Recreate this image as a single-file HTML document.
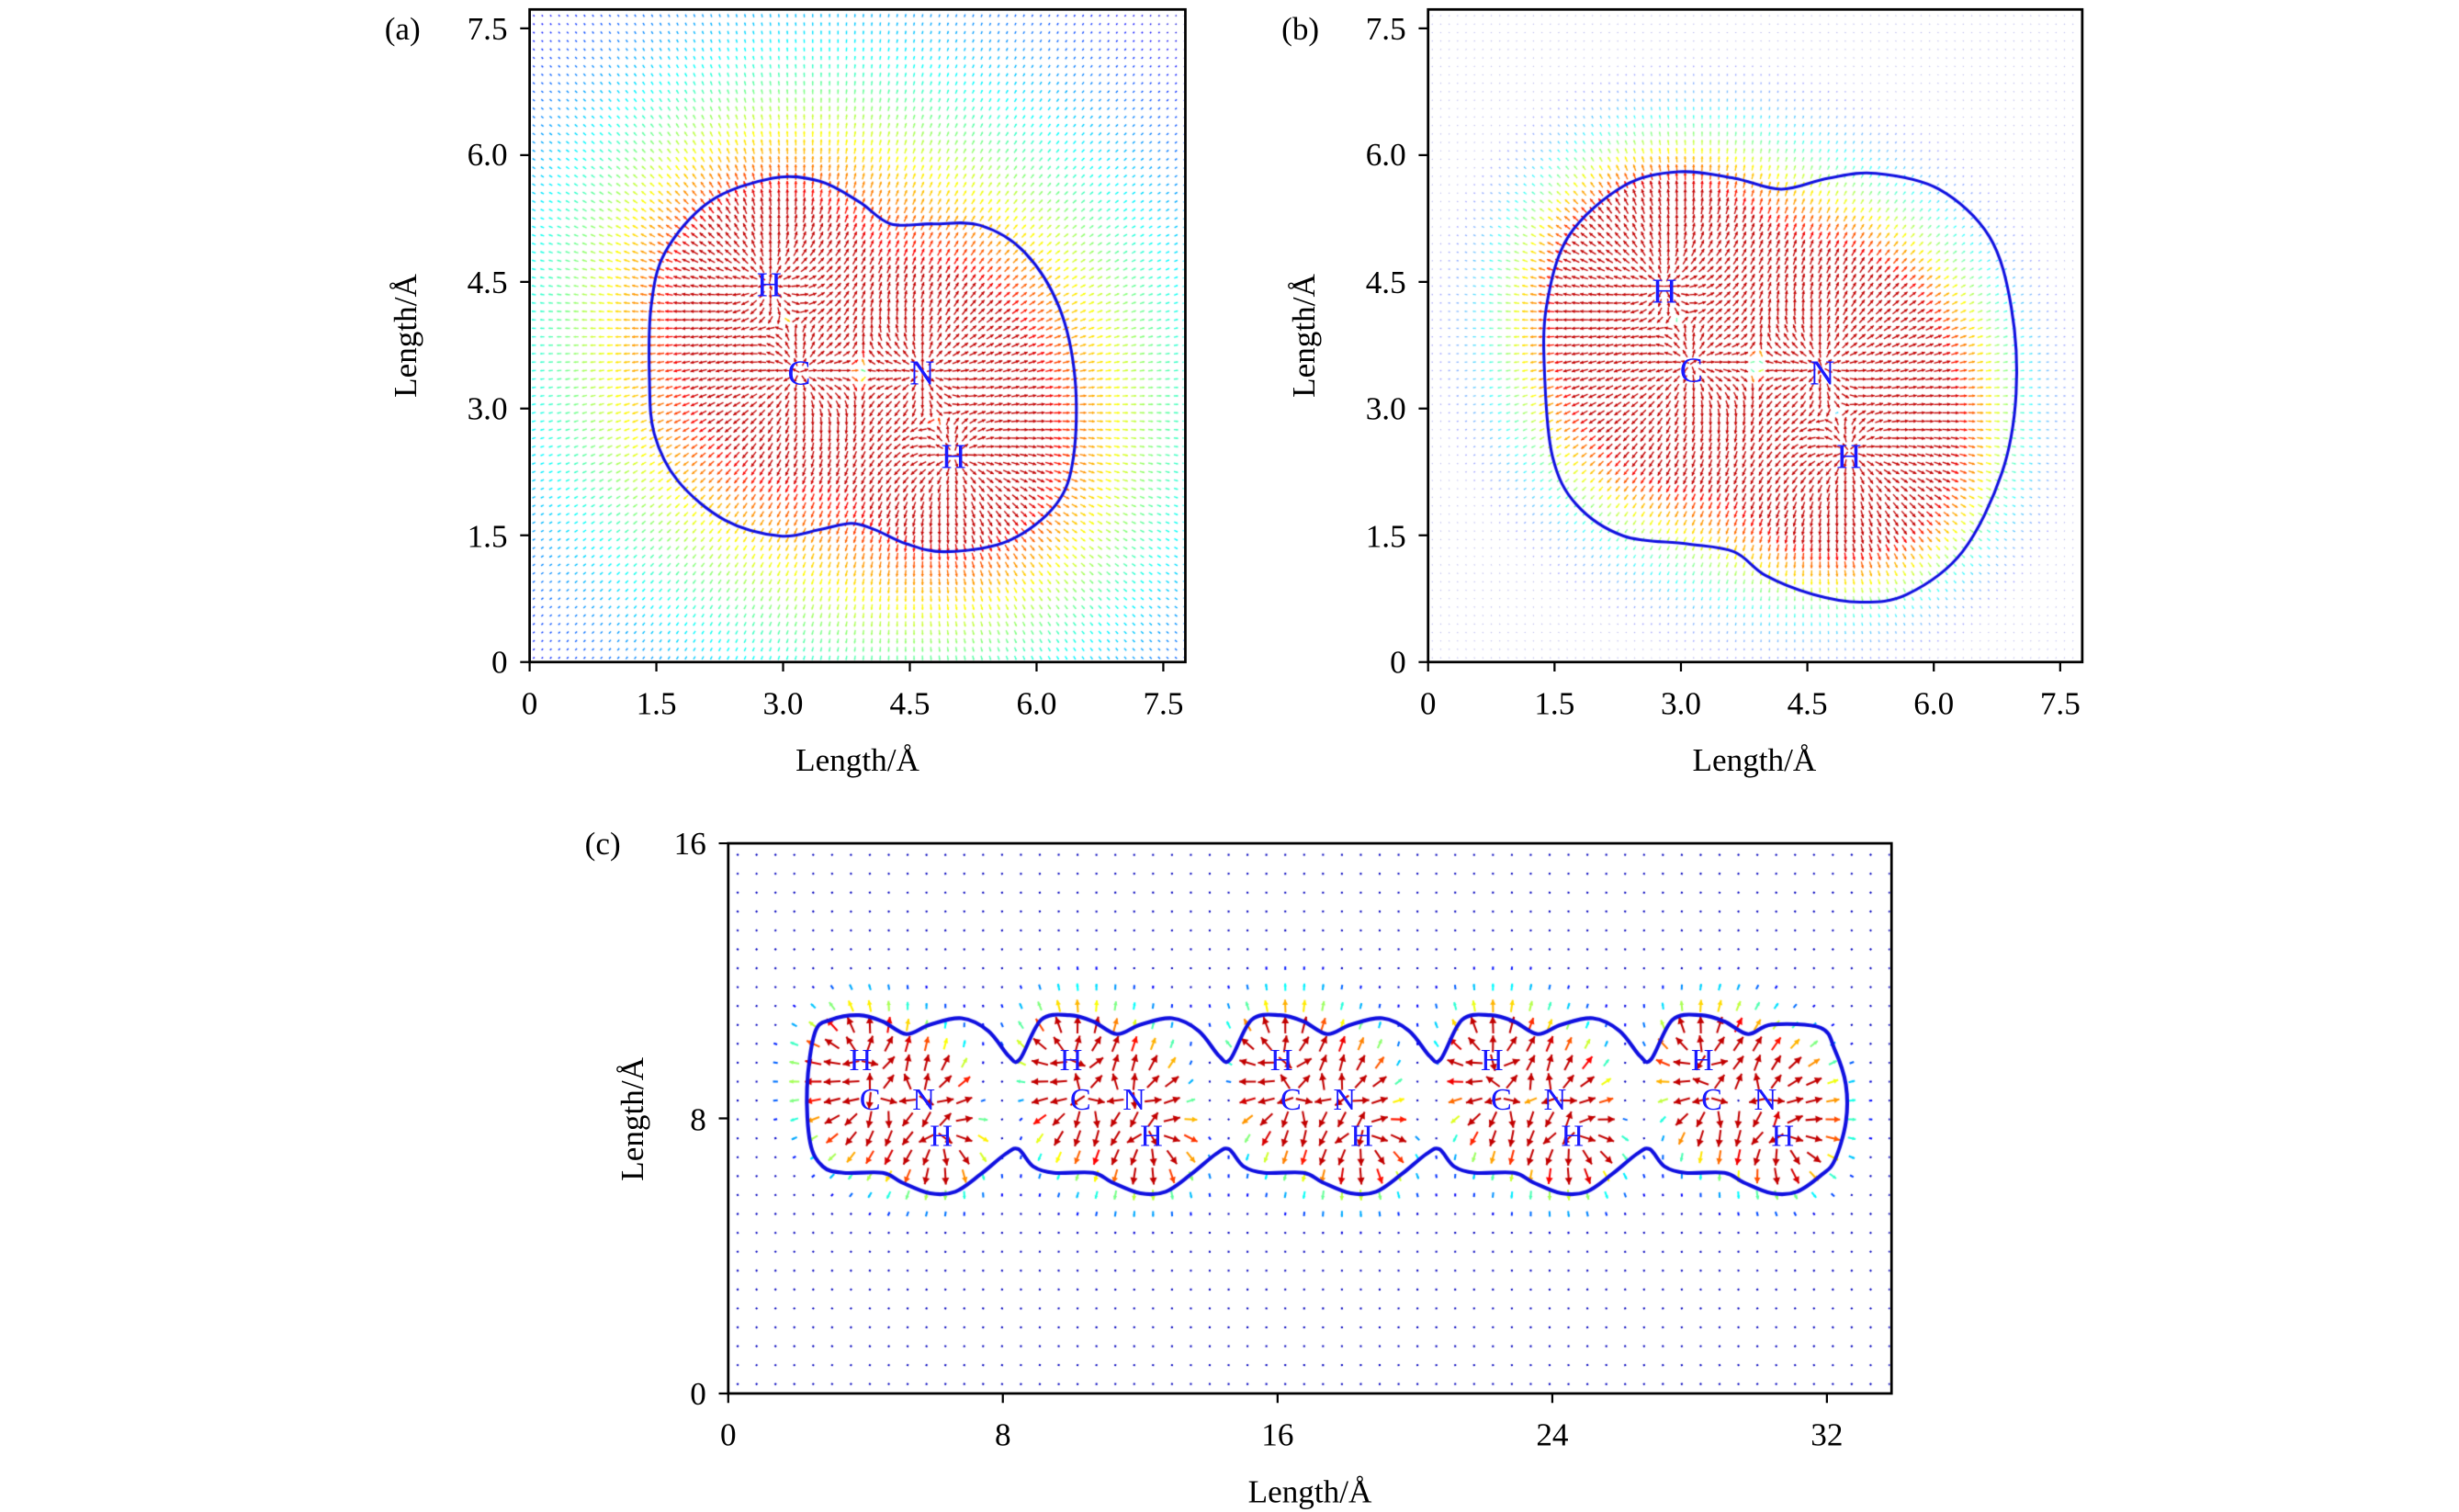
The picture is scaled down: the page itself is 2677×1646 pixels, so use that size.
<!DOCTYPE html>
<html><head><meta charset="utf-8">
<style>
html,body{margin:0;padding:0;background:#fff;}
#wrap{position:relative;width:2677px;height:1646px;overflow:hidden;}
canvas,svg{position:absolute;left:0;top:0;}
</style></head>
<body><div id="wrap">
<canvas id="cv" width="2677" height="1646"></canvas>
<svg width="2677" height="1646" viewBox="0 0 1560 959.2" font-family="'Liberation Serif', serif">
<g fill="none" stroke="#000" stroke-width="1.6">
<rect x="336" y="6" width="416" height="414"/>
<rect x="906" y="6" width="415" height="414"/>
<rect x="462" y="535" width="738" height="349"/>
</g>
<g stroke="#000" stroke-width="1.3">
<path d="M336 420v6M416.4 420v6M496.8 420v6M577.2 420v6M657.6 420v6M738 420v6M336 420h-6M336 339.6h-6M336 259.2h-6M336 178.8h-6M336 98.4h-6M336 18h-6"/>
<path d="M906 420v6M986.2 420v6M1066.4 420v6M1146.6 420v6M1226.8 420v6M1307 420v6M906 420h-6M906 339.6h-6M906 259.2h-6M906 178.8h-6M906 98.4h-6M906 18h-6"/>
<path d="M462 884v6M636.2 884v6M810.5 884v6M984.8 884v6M1159 884v6M462 884h-6M462 709.5h-6M462 535h-6"/>
</g>
<g font-size="20.5" fill="#000">
<g text-anchor="middle">
<text x="336" y="453">0</text><text x="416.4" y="453">1.5</text><text x="496.8" y="453">3.0</text><text x="577.2" y="453">4.5</text><text x="657.6" y="453">6.0</text><text x="738" y="453">7.5</text>
<text x="906" y="453">0</text><text x="986.2" y="453">1.5</text><text x="1066.4" y="453">3.0</text><text x="1146.6" y="453">4.5</text><text x="1226.8" y="453">6.0</text><text x="1307" y="453">7.5</text>
<text x="462" y="917">0</text><text x="636.2" y="917">8</text><text x="810.5" y="917">16</text><text x="984.8" y="917">24</text><text x="1159" y="917">32</text>
<text x="544" y="489">Length/Å</text><text x="1113" y="489">Length/Å</text><text x="831" y="953">Length/Å</text>
</g>
<g text-anchor="end">
<text x="322" y="427">0</text><text x="322" y="347">1.5</text><text x="322" y="266">3.0</text><text x="322" y="186">4.5</text><text x="322" y="105">6.0</text><text x="322" y="25">7.5</text>
<text x="892" y="427">0</text><text x="892" y="347">1.5</text><text x="892" y="266">3.0</text><text x="892" y="186">4.5</text><text x="892" y="105">6.0</text><text x="892" y="25">7.5</text>
<text x="448" y="891">0</text><text x="448" y="717">8</text><text x="448" y="542">16</text>
</g>
<text x="244" y="25">(a)</text><text x="813" y="25">(b)</text><text x="371" y="542">(c)</text>
<text transform="translate(264,213) rotate(-90)" text-anchor="middle">Length/Å</text>
<text transform="translate(834,213) rotate(-90)" text-anchor="middle">Length/Å</text>
<text transform="translate(408,710) rotate(-90)" text-anchor="middle">Length/Å</text>
</g>
<g fill="#1a1aff" font-size="22" text-anchor="middle">
<text x="488" y="188">H</text><text x="507" y="244">C</text><text x="585" y="244">N</text><text x="605" y="297">H</text>
<text x="1056" y="192">H</text><text x="1073" y="242">C</text><text x="1156" y="244">N</text><text x="1173" y="297">H</text>
</g>
<g fill="#1a1aff" font-size="20" text-anchor="middle" id="clab"></g>
</svg>
</div>
<script>
(function(){
var S=2677/1560;
var cv=document.getElementById('cv'),ctx=cv.getContext('2d');
ctx.scale(S,S);
function jet(t){t=Math.max(0,Math.min(1,t))*0.875+0.06;
 var r=Math.min(1,Math.max(0,1.5-Math.abs(4*t-3))),g=Math.min(1,Math.max(0,1.5-Math.abs(4*t-2))),b=Math.min(1,Math.max(0,1.5-Math.abs(4*t-1)));
 return 'rgb('+Math.round(r*255)+','+Math.round(g*255)+','+Math.round(b*255)+')';}
function field(P){
 var atoms=P.atoms,step=P.step;
 ctx.save();ctx.beginPath();ctx.rect(P.fx0,P.fy0,P.fx1-P.fx0,P.fy1-P.fy0);ctx.clip();
 for(var X=step/2;X<P.XM;X+=step){for(var Y=step/2;Y<P.YM;Y+=step){
  var ex=0,ey=0;
  for(var i=0;i<atoms.length;i++){var dx=X-atoms[i][0],dy=Y-atoms[i][1];var r2=dx*dx+dy*dy+0.01;var r=Math.sqrt(r2);var q=atoms[i][2];ex+=q*dx/(r2*r);ey+=q*dy/(r2*r);}
  var M=Math.sqrt(ex*ex+ey*ey);if(M<1e-9)continue;
  var t=(Math.log(M)-P.lo)/(P.hi-P.lo);t=Math.max(0,Math.min(1,t));
  var L=P.L0+P.L1*t;
  var ux=ex/M,uy=-ey/M;
  var px=P.ox+X*P.sx,py=P.oy-Y*P.sy;
  var x0=px-ux*L/2,y0=py-uy*L/2,x1=px+ux*L/2,y1=py+uy*L/2;
  var col=jet(t);
  ctx.strokeStyle=col;ctx.fillStyle=col;ctx.lineWidth=P.lw;
  ctx.globalAlpha=P.alpha?Math.min(1,P.alpha+t):1;
  ctx.beginPath();ctx.moveTo(x0,y0);ctx.lineTo(x1,y1);ctx.stroke();
  if(t>0.25){var h=L*0.4,w=L*0.22;
   ctx.beginPath();ctx.moveTo(x1,y1);ctx.lineTo(x1-ux*h-uy*w,y1-uy*h+ux*w);ctx.lineTo(x1-ux*h+uy*w,y1-uy*h-ux*w);ctx.closePath();ctx.fill();}
 }}
 ctx.restore();ctx.globalAlpha=1;
}
function smooth(pts,lw){
 var n=pts.length;ctx.beginPath();ctx.moveTo(pts[0][0],pts[0][1]);
 for(var i=0;i<n;i++){var p0=pts[(i-1+n)%n],p1=pts[i],p2=pts[(i+1)%n],p3=pts[(i+2)%n];
  ctx.bezierCurveTo(p1[0]+(p2[0]-p0[0])/6,p1[1]+(p2[1]-p0[1])/6,p2[0]-(p3[0]-p1[0])/6,p2[1]-(p3[1]-p1[1])/6,p2[0],p2[1]);}
 ctx.closePath();ctx.strokeStyle='#1010e0';ctx.lineWidth=lw;ctx.stroke();
}
field({atoms:[[2.84,4.48,1],[3.19,3.43,1.3],[4.65,3.43,1.3],[5.02,2.44,1]],step:0.1,XM:7.76,YM:7.72,ox:336,oy:420,sx:53.6,sy:53.6,fx0:337,fy0:7,fx1:751,fy1:419,lo:-2.0,hi:0.35,L0:0.8,L1:4.4,lw:0.8,alpha:0});
field({atoms:[[2.80,4.45,1],[3.12,3.53,1.3],[4.67,3.49,1.3],[4.99,2.50,1]],step:0.1,XM:7.76,YM:7.72,ox:906,oy:420,sx:53.47,sy:53.6,fx0:907,fy0:7,fx1:1320,fy1:419,lo:-1.1,hi:0.15,L0:0.6,L1:4.6,lw:0.8,alpha:0.3});
var catoms=[],lab=document.getElementById('clab'),h='';
for(var i=0;i<5;i++){var o=i*6.13;
 catoms.push([3.86+o,9.72,1],[4.13+o,8.58,1.3],[5.69+o,8.58,1.3],[6.19+o,7.52,1]);
 var d=i*133.5;
 h+='<text x="'+(546+d)+'" y="679">H</text><text x="'+(552+d)+'" y="704">C</text><text x="'+(586+d)+'" y="704">N</text><text x="'+(597+d)+'" y="727">H</text>';}
lab.innerHTML=h;
field({atoms:catoms,step:0.55,XM:33.9,YM:16,ox:462,oy:884,sx:21.78,sy:21.8,fx0:463,fy0:536,fx1:1199,fy1:883,lo:-0.9,hi:0.1,L0:1.2,L1:9.5,lw:1.2,alpha:0});
smooth([[412,240],[413,195],[422,160],[450,128],[490,113],[520,115],[545,128],[565,142],[592,142],[622,143],[650,160],[672,195],[682,240],[681,290],[670,320],[640,343],[600,350],[575,345],[555,336],[540,332],[520,336],[495,340],[460,330],[430,305],[415,275]],1.8);
smooth([[980,240],[981,195],[995,150],[1030,118],[1065,109],[1100,113],[1130,120],[1160,113],[1190,110],[1230,120],[1262,150],[1276,195],[1279,250],[1270,300],[1245,350],[1210,377],[1180,382],[1150,377],[1120,365],[1100,350],[1070,345],[1030,340],[1000,320],[985,290]],1.8);
var top=[[527,647],[545,644],[560,648],[575,656],[590,650],[610,646],[627,654],[640,670],[647,672]];
var bot=[[522,740],[535,744],[560,744],[572,750],[590,757],[606,756],[622,745],[638,732],[646,729]];
var pts=[[517,655],[512,690],[514,725]];
for(var i=0;i<5;i++){for(var j=0;j<bot.length;j++){if(i==4&&j>6)break;pts.push([bot[j][0]+i*133.5,bot[j][1]]);}}
pts.push([1164,736],[1171,712],[1171,688],[1164,666],[1155,652]);
for(var i=4;i>=0;i--){for(var j=top.length-1;j>=0;j--){if(i==4&&j>=5)continue;pts.push([top[j][0]+i*133.5,top[j][1]]);}}
smooth(pts,2.4);
})();
</script>
</body></html>
